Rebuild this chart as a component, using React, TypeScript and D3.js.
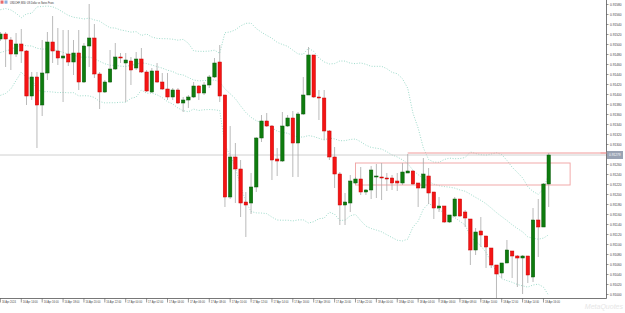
import React from "react";
import * as d3 from "d3";

const W = 625;
const H = 313;

const title = "USDCHF, M30: US Dollar vs Swiss Franc";

// time axis: one label every 4 bars (2 hours)
const timeLabels = [
  "16 Apr 2024", "16 Apr 14:00", "16 Apr 16:00", "16 Apr 18:00", "16 Apr 20:00", "16 Apr 22:00",
  "17 Apr 00:00", "17 Apr 02:00", "17 Apr 04:00", "17 Apr 06:00", "17 Apr 08:00", "17 Apr 10:00",
  "17 Apr 12:00", "17 Apr 14:00", "17 Apr 16:00", "17 Apr 18:00", "17 Apr 20:00", "17 Apr 22:00",
  "18 Apr 00:00", "18 Apr 02:00", "18 Apr 04:00", "18 Apr 06:00", "18 Apr 08:00", "18 Apr 10:00",
  "18 Apr 12:00", "18 Apr 14:00", "18 Apr 16:00",
];

const priceTicks = [
  0.9158, 0.9156, 0.9154, 0.9152, 0.915, 0.9148, 0.9146, 0.9144, 0.9142, 0.914,
  0.9138, 0.9136, 0.9134, 0.9132, 0.913, 0.9128, 0.9126, 0.9124, 0.9122, 0.912,
  0.9118, 0.9116, 0.9114, 0.9112, 0.911, 0.9108, 0.9106, 0.9104, 0.9102, 0.91,
];

// closes of the bars just left of the visible window (feed the bands)
const prevClose = [
  0.91449, 0.91419, 0.91399, 0.91409, 0.91429, 0.91445, 0.91469, 0.91479, 0.91493, 0.91509,
  0.91529, 0.91539, 0.91533, 0.91519, 0.91505, 0.91513, 0.91499, 0.91509, 0.91511,
];

const open = [
  0.91511, 0.91521, 0.91509, 0.91481, 0.91501, 0.91487, 0.91397, 0.91435, 0.91379, 0.91443,
  0.91505, 0.91487, 0.91473, 0.91481, 0.91465, 0.91483, 0.91425, 0.91497, 0.91513, 0.91441,
  0.91405, 0.91425, 0.91451, 0.91475, 0.91463, 0.91467, 0.91453, 0.91471, 0.91445, 0.91405,
  0.91447, 0.91425, 0.91411, 0.91395, 0.91409, 0.91383, 0.91389, 0.91395, 0.91417, 0.91403,
  0.91419, 0.91435, 0.91465, 0.91399, 0.91195, 0.91275, 0.91251, 0.91185, 0.91183, 0.91215,
  0.91313, 0.91347, 0.91337, 0.91271, 0.91267, 0.91337, 0.91353, 0.91303, 0.91361, 0.91399,
  0.91479, 0.91395, 0.91393, 0.91327, 0.91275, 0.91241, 0.91179, 0.91183, 0.91223, 0.91231,
  0.91205, 0.91209, 0.91235, 0.91235, 0.91233, 0.91233, 0.91227, 0.91223, 0.91243, 0.91247,
  0.91223, 0.91213, 0.91237, 0.91205, 0.91173, 0.91177, 0.91145, 0.91157, 0.91191, 0.91165,
  0.91151, 0.91089, 0.91127, 0.91117, 0.91093, 0.91059, 0.91043, 0.91063, 0.91087, 0.91077,
  0.91073, 0.91077, 0.91035, 0.91149, 0.91135, 0.91221,
];
const high = [
  0.91525, 0.91525, 0.91515, 0.91523, 0.91531, 0.91489, 0.91445, 0.91445, 0.91509, 0.91525,
  0.91557, 0.91533, 0.91529, 0.91529, 0.91509, 0.91529, 0.91503, 0.91581, 0.91541, 0.91445,
  0.91429, 0.91489, 0.91503, 0.91483, 0.91483, 0.91475, 0.91485, 0.91493, 0.91449, 0.91453,
  0.91463, 0.91443, 0.91443, 0.91413, 0.91413, 0.91395, 0.91399, 0.91425, 0.91419, 0.91425,
  0.91439, 0.91473, 0.91499, 0.91399, 0.91337, 0.91303, 0.91269, 0.91205, 0.91243, 0.91315,
  0.91359, 0.91363, 0.91339, 0.91293, 0.91365, 0.91359, 0.91367, 0.91365, 0.91435, 0.91495,
  0.91479, 0.91409, 0.91409, 0.91329, 0.91295, 0.91245, 0.91203, 0.91239, 0.91235, 0.91255,
  0.91211, 0.91257, 0.91261, 0.91263, 0.91243, 0.91239, 0.91243, 0.91263, 0.91281, 0.91249,
  0.91223, 0.91273, 0.91253, 0.91205, 0.91195, 0.91177, 0.91159, 0.91195, 0.91191, 0.91169,
  0.91151, 0.91133, 0.91155, 0.91117, 0.91093, 0.91059, 0.91063, 0.91109, 0.91087, 0.91079,
  0.91079, 0.91077, 0.91173, 0.91191, 0.91223, 0.91283,
];
const low = [
  0.91507, 0.91455, 0.91449, 0.91475, 0.91463, 0.91379, 0.91389, 0.91293, 0.91357, 0.91429,
  0.91463, 0.91459, 0.91385, 0.91457, 0.91439, 0.91409, 0.91423, 0.91455, 0.91433, 0.91371,
  0.91403, 0.91423, 0.91449, 0.91463, 0.91385, 0.91419, 0.91449, 0.91443, 0.91405, 0.91403,
  0.91423, 0.91409, 0.91389, 0.91389, 0.91381, 0.91365, 0.91373, 0.91393, 0.91389, 0.91399,
  0.91413, 0.91433, 0.91385, 0.91175, 0.91191, 0.91183, 0.91155, 0.91115, 0.91161, 0.91205,
  0.91305, 0.91335, 0.91229, 0.91237, 0.91265, 0.91335, 0.91235, 0.91235, 0.91359, 0.91399,
  0.91393, 0.91349, 0.91309, 0.91269, 0.91213, 0.91139, 0.91139, 0.91165, 0.91221, 0.91199,
  0.91199, 0.91191, 0.91193, 0.91189, 0.91207, 0.91209, 0.91207, 0.91219, 0.91243, 0.91219,
  0.91175, 0.91213, 0.91181, 0.91151, 0.91165, 0.91143, 0.91143, 0.91155, 0.91155, 0.91135,
  0.91059, 0.91079, 0.91095, 0.91053, 0.91053, 0.90991, 0.91033, 0.91063, 0.91033, 0.91015,
  0.91001, 0.91023, 0.91025, 0.91075, 0.91135, 0.91175,
];
const close = [
  0.91521, 0.91511, 0.91481, 0.91501, 0.91487, 0.91397, 0.91435, 0.91379, 0.91443, 0.91505,
  0.91487, 0.91473, 0.91477, 0.91465, 0.91483, 0.91425, 0.91497, 0.91513, 0.91441, 0.91405,
  0.91425, 0.91451, 0.91475, 0.91473, 0.91469, 0.91449, 0.91471, 0.91445, 0.91407, 0.91447,
  0.91425, 0.91411, 0.91395, 0.91409, 0.91383, 0.91389, 0.91395, 0.91417, 0.91403, 0.91419,
  0.91435, 0.91463, 0.91397, 0.91195, 0.91275, 0.91251, 0.91183, 0.91179, 0.91215, 0.91313,
  0.91347, 0.91337, 0.91269, 0.91267, 0.91337, 0.91353, 0.91303, 0.91361, 0.91399, 0.91479,
  0.91395, 0.91393, 0.91327, 0.91275, 0.91241, 0.91179, 0.91185, 0.91227, 0.91231, 0.91205,
  0.91209, 0.91249, 0.91237, 0.91233, 0.91231, 0.91223, 0.91223, 0.91245, 0.91247, 0.91221,
  0.91213, 0.91241, 0.91203, 0.91173, 0.91177, 0.91145, 0.91159, 0.91191, 0.91157, 0.91153,
  0.91089, 0.91125, 0.91119, 0.91095, 0.91059, 0.91041, 0.91063, 0.91089, 0.91077, 0.91073,
  0.91077, 0.91039, 0.91149, 0.91135, 0.91221, 0.91279,
];

const bidPrice = 0.91279;
const levelPrice = 0.91283;
const levelFromBar = 78;
const zone = { fromBar: 68, toBar: 109.1, top: 0.91263, bottom: 0.91219 };

const PLOT_R = 606.5;
const PLOT_B = 298.5;
const FONT = "'Liberation Sans', Arial, sans-serif";

export default function App() {
  const x = d3.scaleLinear().domain([0, 105]).range([0.4, 548.7]);
  const y = d3.scaleLinear().domain([0.90963, 0.91589]).range([H, 0]);

  // Bollinger bands 20, 2
  const all = prevClose.concat(close);
  const bands = close.map((_, i) => {
    const win = all.slice(i, i + 20);
    const m = d3.mean(win) as number;
    const sd = Math.sqrt(d3.mean(win, (v) => (v - m) * (v - m)) as number);
    return { mid: m, up: m + 2 * sd, lo: m - 2 * sd };
  });
  const bandLine = (key: "mid" | "up" | "lo") =>
    d3
      .line<{ mid: number; up: number; lo: number }>()
      .x((_, i) => x(i))
      .y((d) => y(d[key]))(bands) as string;

  const bodyW = 3.4;
  const fmt = d3.format(".5f");
  const yBid = y(bidPrice);

  return (
    <svg
      width={W}
      height={H}
      style={{ position: "absolute", left: 0, top: 0, background: "#fff" }}
      fontFamily={FONT}
    >
      <defs>
        <clipPath id="plot">
          <rect x={0} y={0} width={PLOT_R} height={PLOT_B} />
        </clipPath>
      </defs>

      <g clipPath="url(#plot)">
        {(["up", "mid", "lo"] as const).map((k) => (
          <path
            key={k}
            d={bandLine(k)}
            fill="none"
            stroke="#93d6c4"
            strokeWidth={0.9}
            strokeDasharray="1 1.6"
          />
        ))}

        <line x1={0} x2={PLOT_R} y1={yBid} y2={yBid} stroke="#c4c4c4" strokeWidth={0.8} />

        <rect
          x={x(zone.fromBar)}
          y={y(zone.top)}
          width={x(zone.toBar) - x(zone.fromBar)}
          height={y(zone.bottom) - y(zone.top)}
          fill="none"
          stroke="#f0a0a0"
          strokeWidth={0.9}
        />
        <line
          x1={x(levelFromBar)}
          x2={PLOT_R}
          y1={y(levelPrice)}
          y2={y(levelPrice)}
          stroke="#f09a9a"
          strokeWidth={1}
        />

        {close.map((c, i) => {
          const up = c >= open[i];
          const top = y(Math.max(c, open[i]));
          const bot = y(Math.min(c, open[i]));
          return (
            <g key={i}>
              <line
                x1={x(i)}
                x2={x(i)}
                y1={y(high[i])}
                y2={y(low[i])}
                stroke="#a8a8a8"
                strokeWidth={0.8}
              />
              <rect
                x={x(i) - bodyW / 2}
                y={top}
                width={bodyW}
                height={Math.max(bot - top, 1)}
                fill={up ? "#0e7c0e" : "#f41414"}
                stroke={up ? "#0a5a0a" : "#c80000"}
                strokeWidth={0.5}
              />
            </g>
          );
        })}
      </g>

      {/* frame */}
      <line x1={PLOT_R} x2={PLOT_R} y1={0} y2={PLOT_B} stroke="#555" strokeWidth={0.8} />
      <line x1={0} x2={PLOT_R} y1={PLOT_B} y2={PLOT_B} stroke="#555" strokeWidth={0.8} />

      {/* price axis */}
      {priceTicks.map((p) => {
        const py = y(p);
        if (Math.abs(py - yBid) < 6) return null;
        return (
          <g key={p}>
            <line x1={PLOT_R} x2={PLOT_R + 2} y1={py} y2={py} stroke="#555" strokeWidth={0.6} />
            <text
              x={PLOT_R + 3.5}
              y={py}
              dy="0.35em"
              fontSize={4.2}
              fill="#444"
              textLength={11.5}
              lengthAdjust="spacingAndGlyphs"
            >
              {fmt(p)}
            </text>
          </g>
        );
      })}
      <line x1={PLOT_R - 6} x2={PLOT_R} y1={y(levelPrice)} y2={y(levelPrice)} stroke="#f09a9a" />
      <rect x={PLOT_R + 0.5} y={yBid - 4} width={16} height={8} fill="#9aa3b3" />
      <text
        x={PLOT_R + 2.5}
        y={yBid}
        dy="0.35em"
        fontSize={4.2}
        fill="#fff"
        textLength={11.5}
        lengthAdjust="spacingAndGlyphs"
      >
        {fmt(bidPrice)}
      </text>

      {/* time axis */}
      {timeLabels.map((t, k) => {
        const tx = x(k * 4);
        return (
          <g key={t}>
            <line x1={tx} x2={tx} y1={PLOT_B} y2={PLOT_B + 4} stroke="#555" strokeWidth={0.6} />
            <text
              x={tx + 1.5}
              y={PLOT_B + 3.4}
              dy="0.35em"
              fontSize={4}
              fill="#444"
              textLength={k === 0 ? 14 : 15}
              lengthAdjust="spacingAndGlyphs"
            >
              {t}
            </text>
          </g>
        );
      })}

      {/* title */}
      <rect x={0.5} y={0.5} width={3} height={3.2} fill="#e86a6a" />
      <rect x={4.5} y={0.5} width={3} height={3.2} fill="#8fb0dc" />
      <text
        x={10}
        y={2.3}
        dy="0.35em"
        fontSize={4}
        fill="#333"
        textLength={44}
        lengthAdjust="spacingAndGlyphs"
      >
        {title}
      </text>

      <text
        x={623}
        y={309}
        textAnchor="end"
        fontSize={7}
        fontStyle="italic"
        fill="#e6e6e6"
      >
        MetaQuotes
      </text>
    </svg>
  );
}
